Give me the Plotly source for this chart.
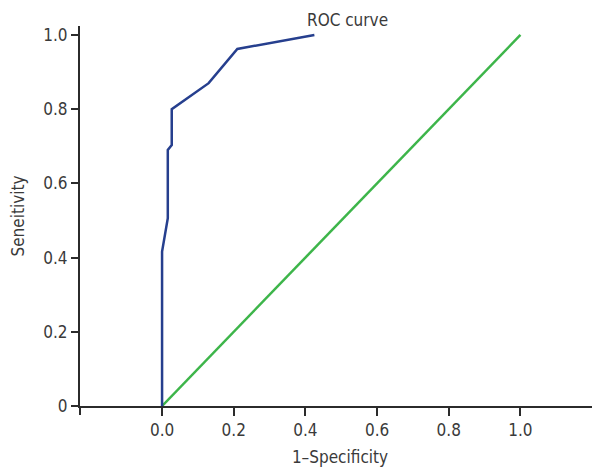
import plotly.graph_objects as go

roc_x = [0.0, 0.0, 0.016, 0.016, 0.027, 0.027, 0.13, 0.21, 0.425]
roc_y = [0.0, 0.416, 0.506, 0.69, 0.703, 0.80, 0.87, 0.962, 1.0]
ref_x = [0.0, 1.0]
ref_y = [0.0, 1.0]
x_ticks = [0.0, 0.2, 0.4, 0.6, 0.8, 1.0]
x_labels = ["0.0", "0.2", "0.4", "0.6", "0.8", "1.0"]
y_ticks = [0.0, 0.2, 0.4, 0.6, 0.8, 1.0]
y_labels = ["0", "0.2", "0.4", "0.6", "0.8", "1.0"]

FONT = "Liberation Sans Narrow, DejaVu Sans Condensed, Arial Narrow, sans-serif"
TXT = "#3a3a3a"
AX = "#2b2b2b"

fig = go.Figure()
fig.add_trace(go.Scatter(x=ref_x, y=ref_y, mode="lines",
                         line=dict(color="#3db54a", width=2.5), showlegend=False))
fig.add_trace(go.Scatter(x=roc_x, y=roc_y, mode="lines",
                         line=dict(color="#263f8e", width=2.5), showlegend=False))

fig.add_annotation(x=0.40, y=1.016, xref="x", yref="paper", text="ROC curve",
                   showarrow=False, xanchor="left", yanchor="middle",
                   font=dict(family=FONT, size=17, color=TXT))

fig.add_shape(type="line", xref="paper", yref="paper", x0=0, x1=0,
              ysizemode="pixel", yanchor=0, y0=0, y1=-9,
              line=dict(color=AX, width=2))

fig.update_layout(
    width=600, height=469,
    margin=dict(l=72, r=8, t=18, b=71),
    plot_bgcolor="white", paper_bgcolor="white",
    font=dict(family=FONT, size=17, color=TXT),
    xaxis=dict(range=[-0.229, 1.222], tickvals=x_ticks, ticktext=x_labels,
               automargin=False,
               showgrid=False, zeroline=False, showline=True, linecolor=AX, linewidth=2,
               ticks="outside", ticklen=8, tickwidth=2, tickcolor=AX,
               title=dict(text="1–Specificity", standoff=12, font=dict(size=17))),
    yaxis=dict(range=[0, 1.024], tickvals=y_ticks, ticktext=y_labels,
               automargin=False,
               showgrid=False, zeroline=False, showline=True, linecolor=AX, linewidth=2,
               ticks="outside", ticklen=7, tickwidth=2, tickcolor=AX,
               title=dict(text="Seneitivity", standoff=16, font=dict(size=17))),
)

fig.write_html("out.html")
